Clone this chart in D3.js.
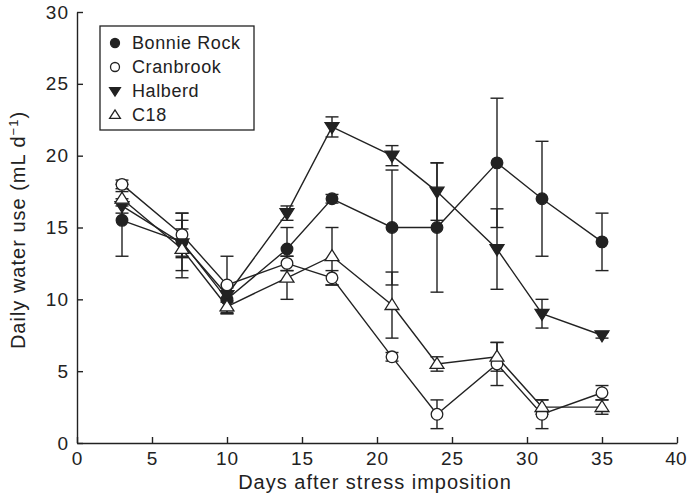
<!DOCTYPE html>
<html><head><meta charset="utf-8">
<script src="https://cdn.jsdelivr.net/npm/d3@7"></script>
<style>body{margin:0;background:#fff}svg{display:block}text{font-family:"Liberation Sans",Arial,sans-serif;fill:#222}</style>
</head><body>
<script>
const days = [3,7,10,14,17,21,24,28,31,35];
const bonnieRock = [15.5,14,10,13.5,17,15,15,19.5,17,14];
const bonnieRockErr = [2.5,2,1,1.5,0.3,4,4.5,4.5,4,2];
const cranbrook = [18,14.5,11,12.5,11.5,6,2,5.5,2,3.5];
const cranbrookErr = [0.3,1.5,2,0.5,0.5,0.3,1,1.5,1,0.5];
const halberd = [16.5,13.9,10.3,16,22,20,17.5,13.5,9,7.5];
const halberdErr = [0.5,1,0.5,0.5,0.7,0.7,2,2.8,1,0.2];
const c18 = [17,13.5,9.5,11.5,13,9.6,5.5,6,2.5,2.5];
const c18Err = [0.5,2,0.4,1.5,2,2.3,0.5,1,0.5,0.5];
const seriesNames = ["Bonnie Rock","Cranbrook","Halberd","C18"];
const xTicks = [0,5,10,15,20,25,30,35,40];
const yTicks = [0,5,10,15,20,25,30];

const W=687,H=496;
const svg=d3.select("body").append("svg").attr("width",W).attr("height",H);
const x=d3.scaleLinear().domain([0,40]).range([77,677]);
const y=d3.scaleLinear().domain([0,30]).range([443,12]);
const ink="#222";

// axes
const gx=svg.append("g").attr("transform","translate(0,443)")
  .call(d3.axisBottom(x).tickValues(xTicks).tickSizeInner(-6).tickSizeOuter(0).tickPadding(9));
const gy=svg.append("g").attr("transform","translate(77,0)")
  .call(d3.axisLeft(y).tickValues(yTicks).tickSizeInner(-6).tickSizeOuter(0).tickPadding(9));
[gx,gy].forEach(g=>{
  g.select(".domain").attr("stroke",ink).attr("stroke-width",1.4);
  g.selectAll(".tick line").attr("stroke",ink).attr("stroke-width",1.4);
  g.selectAll(".tick text").style("font-size","19px").style("letter-spacing","1px").attr("fill",ink).style("font-family",'"Liberation Sans",Arial,sans-serif');
});
gy.selectAll(".tick text").attr("dx","1px");
gx.selectAll(".tick text").filter(d=>d===40).attr("text-anchor","end").attr("x",9).style("letter-spacing","0px");

svg.append("text").attr("x",375).attr("y",489).attr("text-anchor","middle").style("font-size","20px").style("letter-spacing","1px").text("Days after stress imposition");
const yl=svg.append("text").attr("transform","translate(25,230) rotate(-90)").attr("text-anchor","middle").style("font-size","20px").style("letter-spacing","1px");
yl.append("tspan").text("Daily water use (mL d");
yl.append("tspan").attr("dy",-7).style("font-size","13px").text("−1");
yl.append("tspan").attr("dy",7).text(")");

const series=[
 {name:seriesNames[0],v:bonnieRock,e:bonnieRockErr,shape:"circle",fill:ink},
 {name:seriesNames[1],v:cranbrook,e:cranbrookErr,shape:"circle",fill:"#fff"},
 {name:seriesNames[2],v:halberd,e:halberdErr,shape:"down",fill:ink},
 {name:seriesNames[3],v:c18,e:c18Err,shape:"up",fill:"#fff"}
];
function marker(g,shape,fill,cx,cy,s){
  if(shape==="circle"){
    g.append("circle").attr("cx",cx).attr("cy",cy).attr("r",s).attr("fill",fill).attr("stroke",ink).attr("stroke-width",1.3);
  } else {
    const h=s*1.9, w=s*1.2;
    const p = shape==="down"
      ? [[cx-w,cy-h*0.4],[cx+w,cy-h*0.4],[cx,cy+h*0.6]]
      : [[cx-w,cy+h*0.4],[cx+w,cy+h*0.4],[cx,cy-h*0.6]];
    g.append("path").attr("d",d3.line()(p)+"Z").attr("fill",fill).attr("stroke",ink).attr("stroke-width",1.3).attr("stroke-linejoin","miter");
  }
}
const line=d3.line().x(d=>x(d[0])).y(d=>y(d[1]));
// error bars
series.forEach(s=>{
  const g=svg.append("g").attr("stroke",ink).attr("stroke-width",1.4);
  days.forEach((d,i)=>{
    const lo=y(s.v[i]-s.e[i]), hi=y(s.v[i]+s.e[i]), cx=x(d);
    g.append("line").attr("x1",cx).attr("x2",cx).attr("y1",lo).attr("y2",hi);
    g.append("line").attr("x1",cx-6.5).attr("x2",cx+6.5).attr("y1",lo).attr("y2",lo);
    g.append("line").attr("x1",cx-6.5).attr("x2",cx+6.5).attr("y1",hi).attr("y2",hi);
  });
});
series.forEach(s=>{
  svg.append("path").datum(days.map((d,i)=>[d,s.v[i]])).attr("d",line).attr("fill","none").attr("stroke",ink).attr("stroke-width",1.4);
});
series.forEach(s=>{
  const g=svg.append("g");
  days.forEach((d,i)=>marker(g,s.shape,s.fill,x(d),y(s.v[i]),5.8));
});

// legend
const lg=svg.append("g");
lg.append("rect").attr("x",100).attr("y",26).attr("width",154).attr("height",104).attr("fill","#fff").attr("stroke",ink).attr("stroke-width",1.3);
series.forEach((s,i)=>{
  const cy=43+i*24;
  marker(lg,s.shape,s.fill,115,cy,4.5);
  lg.append("text").attr("x",132).attr("y",cy+6).style("font-size","18px").style("letter-spacing","0.6px").text(s.name);
});
</script>
</body></html>
